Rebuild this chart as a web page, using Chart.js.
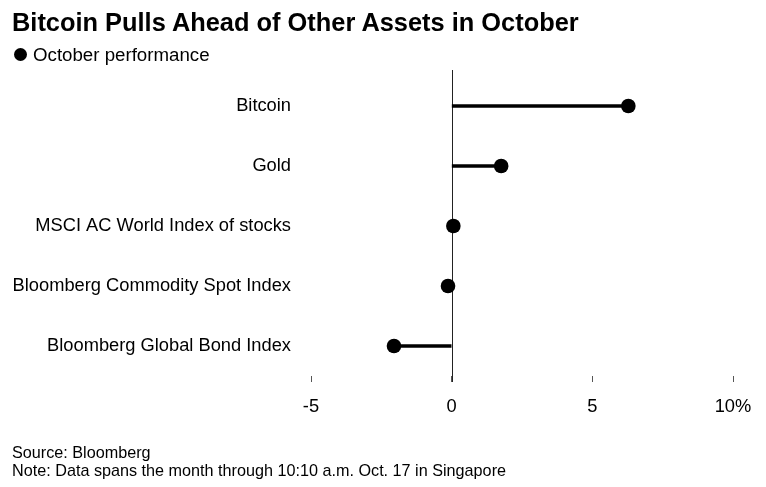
<!DOCTYPE html>
<html>
<head>
<meta charset="utf-8">
<script src="https://cdn.jsdelivr.net/npm/chart.js@4.4.1/dist/chart.umd.min.js"></script>
<style>
  html, body { margin: 0; padding: 0; background: #fff; }
  body { width: 766px; height: 487px; position: relative; overflow: hidden; font-family: "Liberation Sans", Arial, sans-serif; color: #000; }
  #wrap { position: absolute; left: 0; top: 0; width: 766px; height: 487px; }
  .txt { position: absolute; white-space: nowrap; }
  #title { left: 12px; top: 7px; font-size: 25.4px; line-height: 30px; font-weight: bold; }
  #legend { left: 14px; top: 44px; font-size: 18.7px; line-height: 22px; }
  #legend .dot { display: inline-block; width: 13px; height: 13px; border-radius: 50%; background: #000; vertical-align: middle; margin-right: 6px; position: relative; top: -2px; }
  #src { left: 12px; top: 443px; font-size: 16.2px; line-height: 18px; }
  #note { left: 12px; top: 461px; font-size: 16.2px; line-height: 18px; }
</style>
</head>
<body>
<div id="wrap"><canvas id="c" width="766" height="487"></canvas></div>
<div class="txt" id="title">Bitcoin Pulls Ahead of Other Assets in October</div>
<div class="txt" id="legend"><span class="dot"></span>October performance</div>
<div class="txt" id="src">Source: Bloomberg</div>
<div class="txt" id="note">Note: Data spans the month through 10:10 a.m. Oct. 17 in Singapore</div>
<script>
const categories = [
  "Bitcoin",
  "Gold",
  "MSCI AC World Index of stocks",
  "Bloomberg Commodity Spot Index",
  "Bloomberg Global Bond Index"
];
const octoberPerformance = [6.28, 1.76, 0.06, -0.13, -2.05];
const xTickValues = [-5, 0, 5, 10];
const xTickLabels = ["-5", "0", "5", "10%"];

const zeroLinePlugin = {
  id: "zeroLine",
  beforeDatasetsDraw(chart) {
    const x = chart.scales.x.getPixelForValue(0);
    const ctx = chart.ctx;
    ctx.save();
    ctx.strokeStyle = "#222";
    ctx.lineWidth = 1;
    ctx.beginPath();
    ctx.moveTo(Math.round(x) + 0.5, 70);
    ctx.lineTo(Math.round(x) + 0.5, chart.chartArea.bottom + 6);
    ctx.stroke();
    ctx.restore();
  }
};

new Chart(document.getElementById("c"), {
  type: "bar",
  data: {
    labels: categories,
    datasets: [
      {
        type: "line",
        label: "October performance",
        data: octoberPerformance,
        indexAxis: "y",
        showLine: false,
        pointRadius: 7.3,
        pointHoverRadius: 7.3,
        pointBackgroundColor: "#000",
        pointBorderColor: "#000",
        pointBorderWidth: 0,
        order: 0
      },
      {
        type: "bar",
        label: "stem",
        data: octoberPerformance,
        indexAxis: "y",
        backgroundColor: "#000",
        borderWidth: 0,
        barThickness: 3,
        order: 1
      }
    ]
  },
  options: {
    indexAxis: "y",
    responsive: false,
    animation: false,
    layout: { padding: { top: 76, right: 33, bottom: 0, left: 0 } },
    plugins: {
      legend: { display: false },
      tooltip: { enabled: false },
      title: { display: false }
    },
    scales: {
      x: {
        type: "linear",
        min: -5,
        max: 10,
        afterBuildTicks(scale) {
          scale.ticks = xTickValues.map(v => ({ value: v }));
        },
        afterFit(scale) { scale.height = 111; },
        grid: {
          drawOnChartArea: false,
          drawTicks: true,
          tickLength: 6,
          tickColor: "#555",
          lineWidth: 1
        },
        border: { display: false },
        ticks: {
          padding: 14,
          color: "#000",
          font: { family: "Liberation Sans", size: 18.3 },
          maxRotation: 0,
          callback(value) {
            const i = xTickValues.indexOf(value);
            return i >= 0 ? xTickLabels[i] : "";
          }
        }
      },
      y: {
        type: "category",
        offset: true,
        afterFit(scale) { scale.width = 311; },
        grid: { display: false, drawTicks: false },
        border: { display: false },
        ticks: {
          padding: 20,
          color: "#000",
          font: { family: "Liberation Sans", size: 18.3 }
        }
      }
    }
  },
  plugins: [zeroLinePlugin]
});
</script>
</body>
</html>
